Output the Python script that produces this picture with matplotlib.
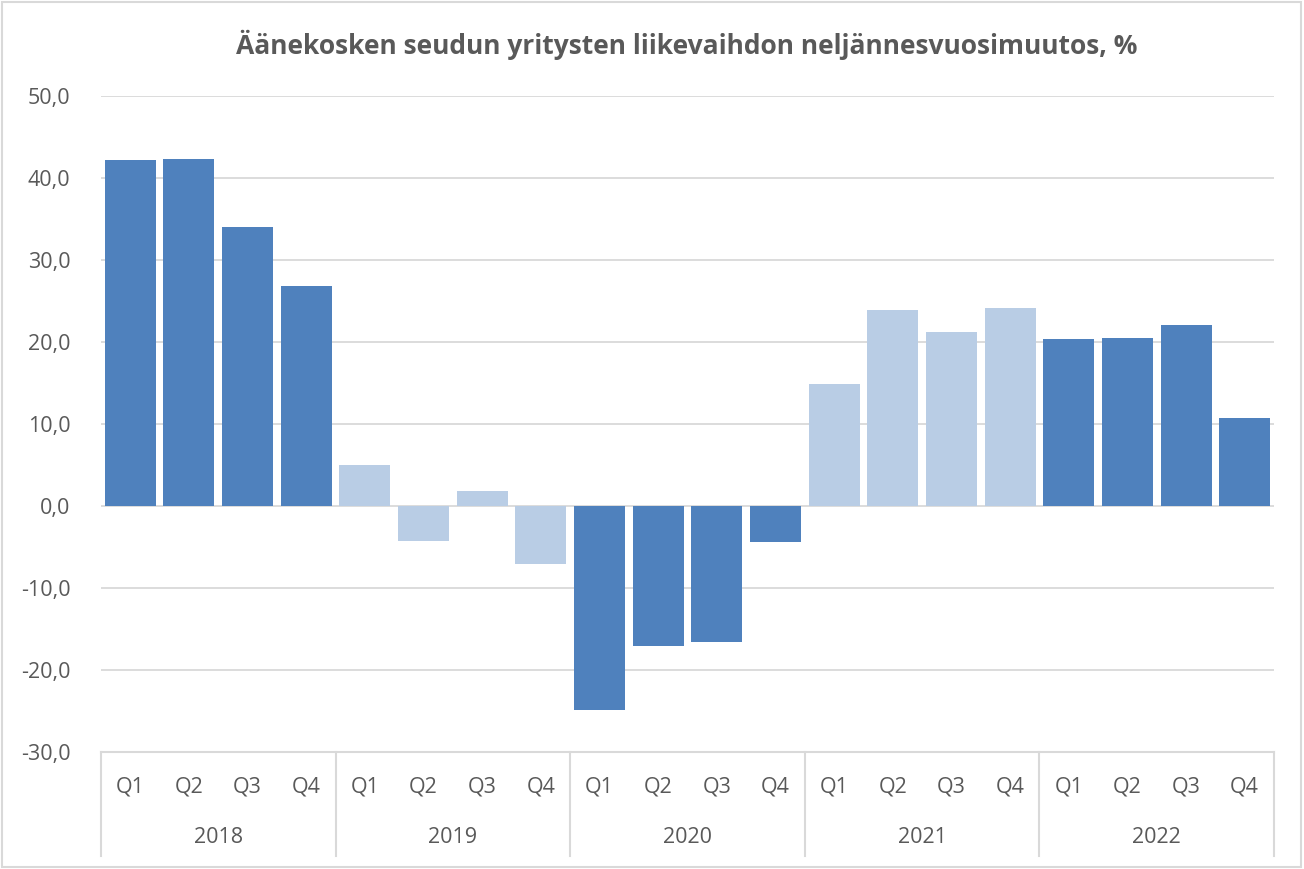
import numpy as np
import matplotlib
matplotlib.use("Agg")
from matplotlib import pyplot as plt
from matplotlib.patches import Rectangle

plt.rcParams['font.family'] = ['Open Sans', 'DejaVu Sans']

years = ["2018", "2019", "2020", "2021", "2022"]
quarters = ["Q1", "Q2", "Q3", "Q4"]
values = [42.2, 42.3, 34.0, 26.8,
          5.0, -4.3, 1.8, -7.1,
          -24.9, -17.1, -16.6, -4.4,
          14.9, 23.9, 21.2, 24.1,
          20.4, 20.5, 22.1, 10.7]
# dark = 2018, 2020, 2022 ; light = 2019, 2021
year_dark = [True, False, True, False, True]

dark = '#4F81BD'
light = '#B9CDE5'
txt = '#595959'
grid = '#D9D9D9'

fig = plt.figure(figsize=(13.04, 8.69), dpi=100)
ax = fig.add_axes([101/1304, 1 - 752/869, (1274-101)/1304, (752-96)/869])

x = np.arange(len(values))
colors = []
for i in range(len(years)):
    colors += [dark if year_dark[i] else light] * 4
ax.bar(x, values, width=0.87, color=colors, zorder=3)

ax.set_xlim(-0.5, len(values) - 0.5)
ax.set_ylim(-30, 50)
ax.set_yticks(np.arange(-30, 51, 10))
ax.set_yticklabels([("%.1f" % v).replace('.', ',') for v in np.arange(-30, 51, 10)])
ax.tick_params(axis='y', length=0, labelsize=15.5, labelcolor=txt, pad=22)
ax.set_xticks([])
for s in ['top', 'right', 'left']:
    ax.spines[s].set_visible(False)
ax.spines['bottom'].set_color(grid)
ax.spines['bottom'].set_linewidth(1.5)
ax.yaxis.grid(True, color=grid, lw=1.3, zorder=0)

# two-level category axis
trans = ax.get_xaxis_transform()
for i, q in enumerate(quarters * len(years)):
    ax.text(i, -0.053, q, transform=trans, ha='center', va='center',
            fontsize=15.5, color=txt)
for k, yr in enumerate(years):
    ax.text(k * 4 + 1.5, -0.131, yr, transform=trans, ha='center', va='center',
            fontsize=15.5, color=txt)
for k in range(len(years) + 1):
    ax.plot([k * 4 - 0.5] * 2, [0, -0.159], transform=trans, color=grid,
            lw=1.5, clip_on=False)

fig.text(687/1304, 1 - 45/869,
         "Äänekosken seudun yritysten liikevaihdon neljännesvuosimuutos, %",
         fontsize=19, fontweight='bold', color=txt, ha='center', va='center')

fig.patches.append(Rectangle((2/1304, 2/869), 1299/1304, 865/869, transform=fig.transFigure,
                             fill=False, edgecolor=grid, lw=1.5))

fig.savefig("out.png", dpi=100)
